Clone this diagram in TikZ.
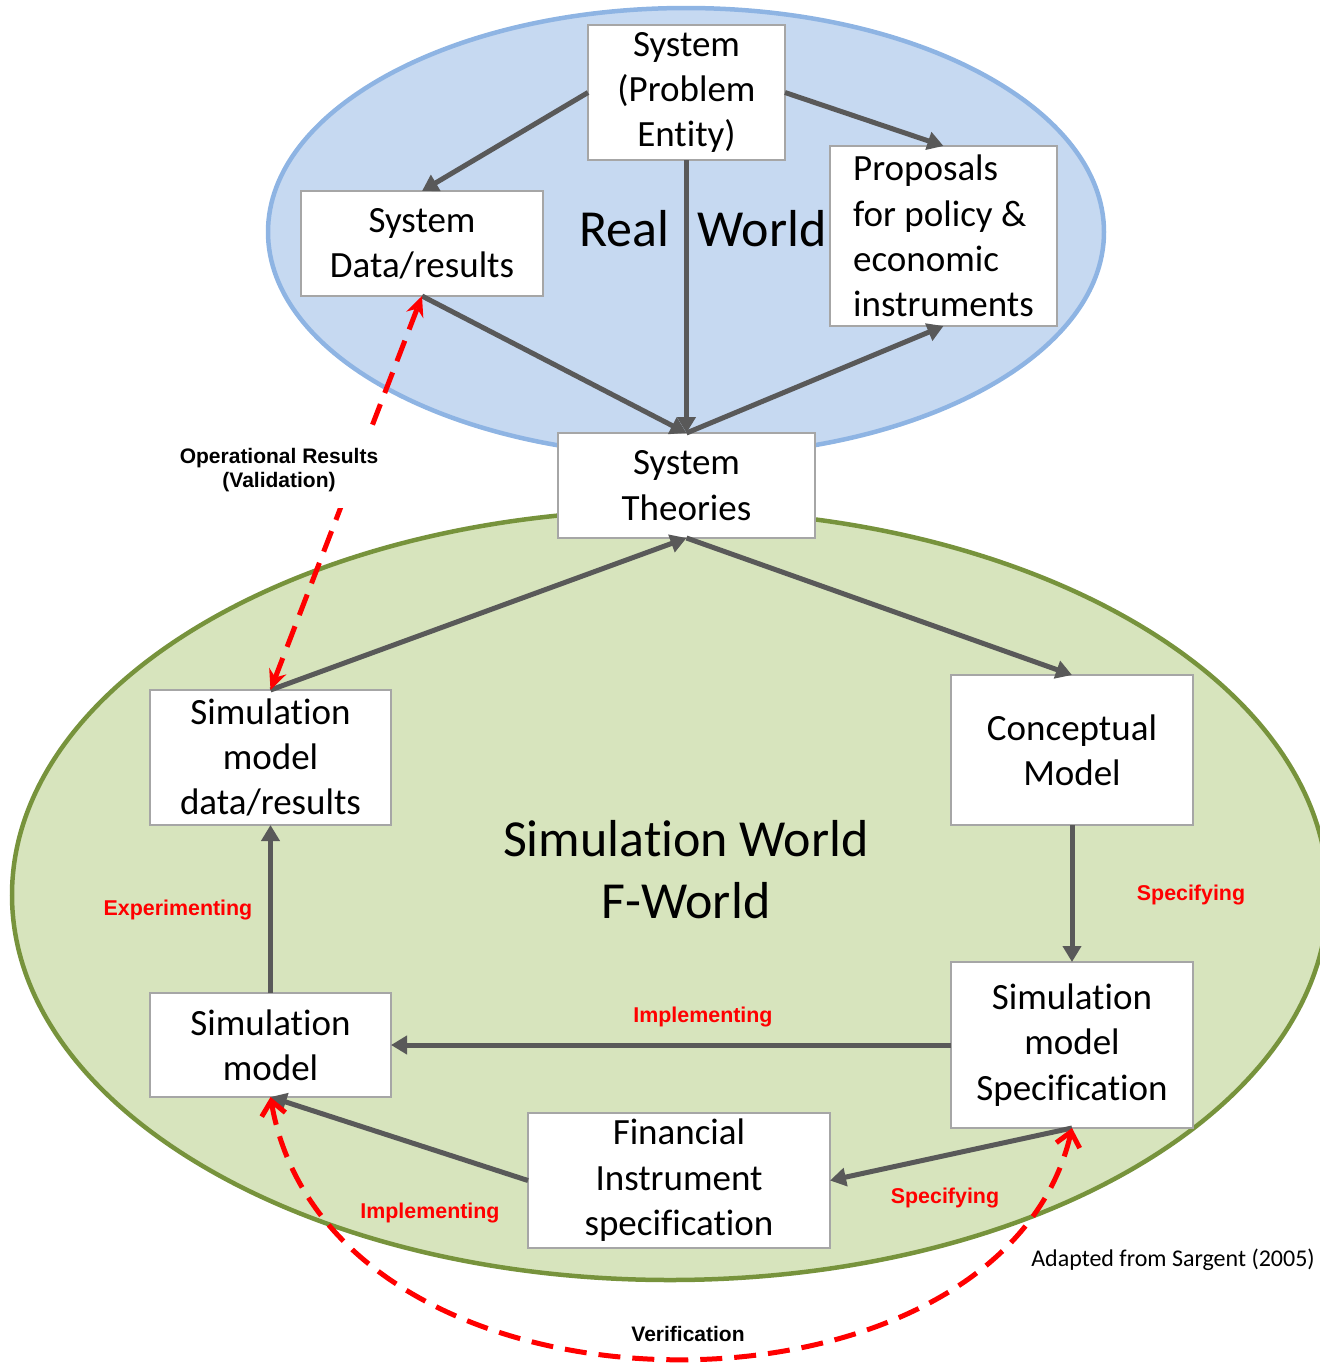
\documentclass[tikz,border=0pt]{standalone}
\usepackage{fontspec}
\setmainfont{Carlito}[Ligatures={NoCommon,NoContextual},Contextuals=NoAlternate]
\newfontfamily\labelfont{Liberation Sans}
\usetikzlibrary{arrows.meta}
\definecolor{realfill}{HTML}{C6D9F1}
\definecolor{realline}{HTML}{8EB4E3}
\definecolor{simfill}{HTML}{D7E4BD}
\definecolor{simline}{HTML}{77933C}
\definecolor{arrowgray}{HTML}{595959}
\definecolor{boxline}{HTML}{A6A6A6}

\begin{document}
\begin{tikzpicture}[
        x=0.5pt, y=-0.5pt,
        thick,
        font=\fontsize{18.5}{22.7}\selectfont
    ]
    \tikzset{
        mybox/.style = {rectangle, draw=boxline, line width=0.6pt, fill=white, align=center, inner sep=0pt, outer sep=0pt},
        edgeg/.style = {-{Triangle[length=8pt,width=9pt]}, line width=2.5pt, arrowgray},
        edgerv/.style = {{Stealth[length=10pt,width=9pt]}-{Stealth[length=10pt,width=9pt]}, line width=2.5pt, red, dash pattern=on 11pt off 6pt},
        edgerb/.style = {{Straight Barb[length=7pt,width=12pt]}-{Straight Barb[length=7pt,width=12pt]}, line width=2.5pt, red, dash pattern=on 11pt off 6pt},
        steplabel/.style = {font=\labelfont\bfseries\fontsize{10.7}{12}\selectfont, text=red},
        notelabel/.style = {font=\labelfont\bfseries\fontsize{10.5}{12}\selectfont, align=center},
    }
    \useasboundingbox (0,0) rectangle (1320,1367);
    \clip (0,0) rectangle (1320,1367);
    % the two worlds
    \draw[realline, fill=realfill, line width=2.25pt] (686,232) ellipse [x radius=209pt, y radius=112pt];
    \draw[simline, fill=simfill, line width=2.25pt] (670,895) ellipse [x radius=329pt, y radius=192.5pt];
    \node[font=\fontsize{26}{31}\selectfont, inner sep=0pt] at (703,229) (real) {Real\hspace{14pt}World};
    \node[font=\fontsize{26}{31}\selectfont, align=center, inner sep=0pt] at (686,870) (simw) {Simulation World\\F-World};
    %
    \node[mybox, minimum width=98.5pt, minimum height=67.5pt] at (686.5,92.5) (sys) {System\\(Problem\\Entity)};
    \node[mybox, minimum width=121pt, minimum height=52.5pt] at (422,243.5) (data) {System\\Data/results};
    \node[mybox, align=left, minimum width=113.5pt, minimum height=90pt] at (943.5,236) (prop) {Proposals\\for policy \&\\economic\\instruments};
    \node[mybox, minimum width=128.5pt, minimum height=52.5pt] at (686.5,485.5) (theo) {System\\Theories};
    \node[mybox, minimum width=121pt, minimum height=75pt] at (1072,750) (concept) {Conceptual\\Model};
    \node[mybox, minimum width=120.5pt, minimum height=67.5pt] at (270.5,757.5) (simdata) {Simulation\\model\\data/results};
    \node[mybox, minimum width=120.5pt, minimum height=52pt] at (270.5,1045) (simmod) {Simulation\\model};
    \node[mybox, minimum width=121pt, minimum height=83pt] at (1072,1045) (spec) {Simulation\\model\\Specification};
    \node[mybox, minimum width=151pt, minimum height=67.5pt] at (679,1180.5) (fin) {Financial\\Instrument\\specification};
    %
    \draw[edgeg] (sys.west) -- (data.north);
    \draw[edgeg] (sys.east) -- (prop.north);
    \draw[edgeg] (sys.south) -- (theo.north);
    \draw[edgeg] (data.south) -- (theo.north);
    \draw[edgeg] (theo.north) -- (prop.south);
    %
    \draw[edgeg] (simdata.north) -- (theo.south);
    \draw[edgeg] (theo.south) -- (concept.north);
    \draw[edgeg] (concept.south) -- (spec.north);
    \draw[edgeg] (spec.west) -- (simmod.east);
    \draw[edgeg] (simmod.north) -- (simdata.south);
    \draw[edgeg] (spec.south) -- (fin.east);
    \draw[edgeg] (fin.west) -- (simmod.south);
    %
    \draw[edgerv] (simdata.north) -- (data.south);
    \node[notelabel, fill=white, inner xsep=2pt, inner ysep=8pt] at (279,470) (valid) {Operational Results\\(Validation)};
    \draw[edgerb] (simmod.south) .. controls (330,1440) and (1000,1440) .. (spec.south);
    \node[notelabel] at (688,1334) (verif) {Verification};
    %
    \node[steplabel] at (178,910) (exper) {Experimenting};
    \node[steplabel] at (703,1017) (impla) {Implementing};
    \node[steplabel] at (1191,895) (speca) {Specifying};
    \node[steplabel] at (945,1198) (specb) {Specifying};
    \node[steplabel] at (430,1213) (implb) {Implementing};
    \node[font=\fontsize{12}{14}\selectfont] at (1173,1260) (source) {Adapted from Sargent (2005)};
\end{tikzpicture}
\end{document}
